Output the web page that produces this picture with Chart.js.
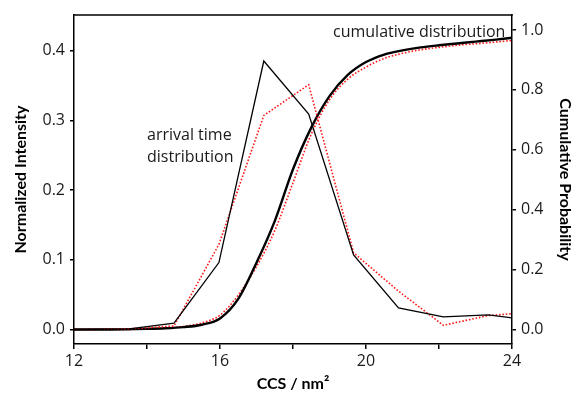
<!DOCTYPE html>
<html>
<head>
<meta charset="utf-8">
<script src="https://cdn.jsdelivr.net/npm/chart.js@4/dist/chart.umd.min.js"></script>
<style>
  html, body { margin: 0; padding: 0; background: #fff; }
  #wrap { width: 576px; height: 393px; position: relative; }
</style>
</head>
<body>
<div id="wrap"><canvas id="c" width="576" height="393"></canvas></div>
<script>
// ---- data ----
const atdX = [11.05, 12.28, 13.51, 14.74, 15.97, 17.2, 18.43, 19.66, 20.89, 22.12, 23.35, 24.58];
const atdMeasured = [0, 0, 0.001, 0.009, 0.096, 0.385, 0.309, 0.107, 0.031, 0.018, 0.021, 0.013];
const atdModel = [0, 0, 0.001, 0.005, 0.122, 0.307, 0.351, 0.11, 0.055, 0.006, 0.02, 0.025];

const cumX = [12, 13, 14, 14.5, 15, 15.5, 16, 16.5, 17, 17.5, 18, 18.5, 19, 19.5, 20, 20.5, 21, 21.5, 22, 22.5, 23, 23.5, 24];
const cumMeasured = [0, 0, 0.002, 0.004, 0.008, 0.016, 0.037, 0.102, 0.223, 0.362, 0.535, 0.674, 0.779, 0.85, 0.893, 0.918, 0.932, 0.942, 0.949, 0.955, 0.961, 0.967, 0.974];
const cumModel = [0, 0, 0.002, 0.005, 0.01, 0.022, 0.048, 0.115, 0.21, 0.33, 0.49, 0.652, 0.767, 0.836, 0.876, 0.905, 0.922, 0.934, 0.942, 0.949, 0.954, 0.959, 0.965];

const xTicks = [12, 14, 16, 18, 20, 22, 24];
const xTickLabels = ['12', '', '16', '', '20', '', '24'];
const leftTicks = [0, 0.1, 0.2, 0.3, 0.4];
const rightTicks = [0, 0.2, 0.4, 0.6, 0.8, 1.0];

const labelArrival = ['arrival time', 'distribution'];
const labelCumulative = 'cumulative distribution';

const pts = (xs, ys) => xs.map((x, i) => ({ x: x, y: ys[i] }));

const FONT = '"Open Sans"';
const BOLD = 'Lato';

const framePlugin = {
  id: 'frame',
  afterDraw(chart) {
    const { ctx, chartArea, scales } = chart;
    ctx.save();
    ctx.strokeStyle = '#000';
    ctx.lineWidth = 1.5;
    ctx.beginPath();
    ctx.moveTo(chartArea.left - 0.75, chartArea.top);
    ctx.lineTo(chartArea.right + 0.75, chartArea.top);
    ctx.stroke();

    ctx.fillStyle = '#1a1a1a';
    ctx.font = '16px ' + FONT;
    ctx.textBaseline = 'alphabetic';
    ctx.textAlign = 'left';
    const xa = scales.x.getPixelForValue(14.0);
    ctx.fillText(labelArrival[0], xa, scales.y.getPixelForValue(0.272));
    ctx.fillText(labelArrival[1], xa, scales.y.getPixelForValue(0.240));
    ctx.textAlign = 'right';
    ctx.fillText(labelCumulative, scales.x.getPixelForValue(23.82), scales.y2.getPixelForValue(0.975));
    ctx.restore();
  }
};

new Chart(document.getElementById('c'), {
  type: 'scatter',
  data: {
    datasets: [
      { data: pts(atdX, atdMeasured), yAxisID: 'y', showLine: true, borderColor: '#000', borderWidth: 1.3, pointRadius: 0, tension: 0 },
      { data: pts(atdX, atdModel), yAxisID: 'y', showLine: true, borderColor: '#ff1a1a', borderWidth: 1.6, borderDash: [1.6, 1.8], pointRadius: 0, tension: 0 },
      { data: pts(cumX, cumMeasured), yAxisID: 'y2', showLine: true, borderColor: '#000', borderWidth: 2.4, pointRadius: 0, cubicInterpolationMode: 'monotone' },
      { data: pts(cumX, cumModel), yAxisID: 'y2', showLine: true, borderColor: '#ff1a1a', borderWidth: 1.6, borderDash: [1.6, 1.8], pointRadius: 0, cubicInterpolationMode: 'monotone' }
    ]
  },
  options: {
    responsive: false,
    animation: false,
    layout: { padding: { top: 15, left: 0, right: 0, bottom: 0 } },
    plugins: { legend: { display: false }, tooltip: { enabled: false } },
    scales: {
      x: {
        type: 'linear', position: 'bottom', min: 12, max: 24,
        afterFit(s) { s.height = 49; },
        afterBuildTicks(s) { s.ticks = xTicks.map(v => ({ value: v })); },
        ticks: { color: '#1a1a1a', font: { family: FONT, size: 16 }, padding: 3, maxRotation: 0,
          callback: (v) => { const i = xTicks.indexOf(v); return i >= 0 ? xTickLabels[i] : ''; } },
        grid: { drawOnChartArea: false, drawTicks: true, tickLength: 5, color: '#000', lineWidth: 1.5 },
        border: { display: true, color: '#000', width: 1.5 },
        title: { display: true, text: 'CCS / nm²', color: '#000', font: { family: BOLD, size: 16, weight: 'bold' }, padding: { top: 0, bottom: 0 } }
      },
      y: {
        type: 'linear', position: 'left', min: -0.0208, max: 0.451,
        afterFit(s) { s.width = 74; },
        afterBuildTicks(s) { s.ticks = leftTicks.map(v => ({ value: v })); },
        ticks: { color: '#1a1a1a', font: { family: FONT, size: 16 }, padding: 5, callback: (v) => Number(v).toFixed(1) },
        grid: { drawOnChartArea: false, drawTicks: true, tickLength: 4, color: '#000', lineWidth: 1.5 },
        border: { display: true, color: '#000', width: 1.5 },
        title: { display: true, text: 'Normalized Intensity', color: '#000', font: { family: BOLD, size: 16, weight: 'bold' }, padding: { top: 11, bottom: 0 } }
      },
      y2: {
        type: 'linear', position: 'right', min: -0.0484, max: 1.05,
        afterFit(s) { s.width = 64; },
        afterBuildTicks(s) { s.ticks = rightTicks.map(v => ({ value: v })); },
        ticks: { color: '#1a1a1a', font: { family: FONT, size: 16 }, padding: 5, callback: (v) => Number(v).toFixed(1) },
        grid: { drawOnChartArea: false, drawTicks: true, tickLength: 4, color: '#000', lineWidth: 1.5 },
        border: { display: true, color: '#000', width: 1.5 },
        title: { display: true, text: 'Cumulative Probability', color: '#000', font: { family: BOLD, size: 16, weight: 'bold' }, padding: { top: 1, bottom: 0 } }
      }
    }
  },
  plugins: [framePlugin]
});
</script>
</body>
</html>
